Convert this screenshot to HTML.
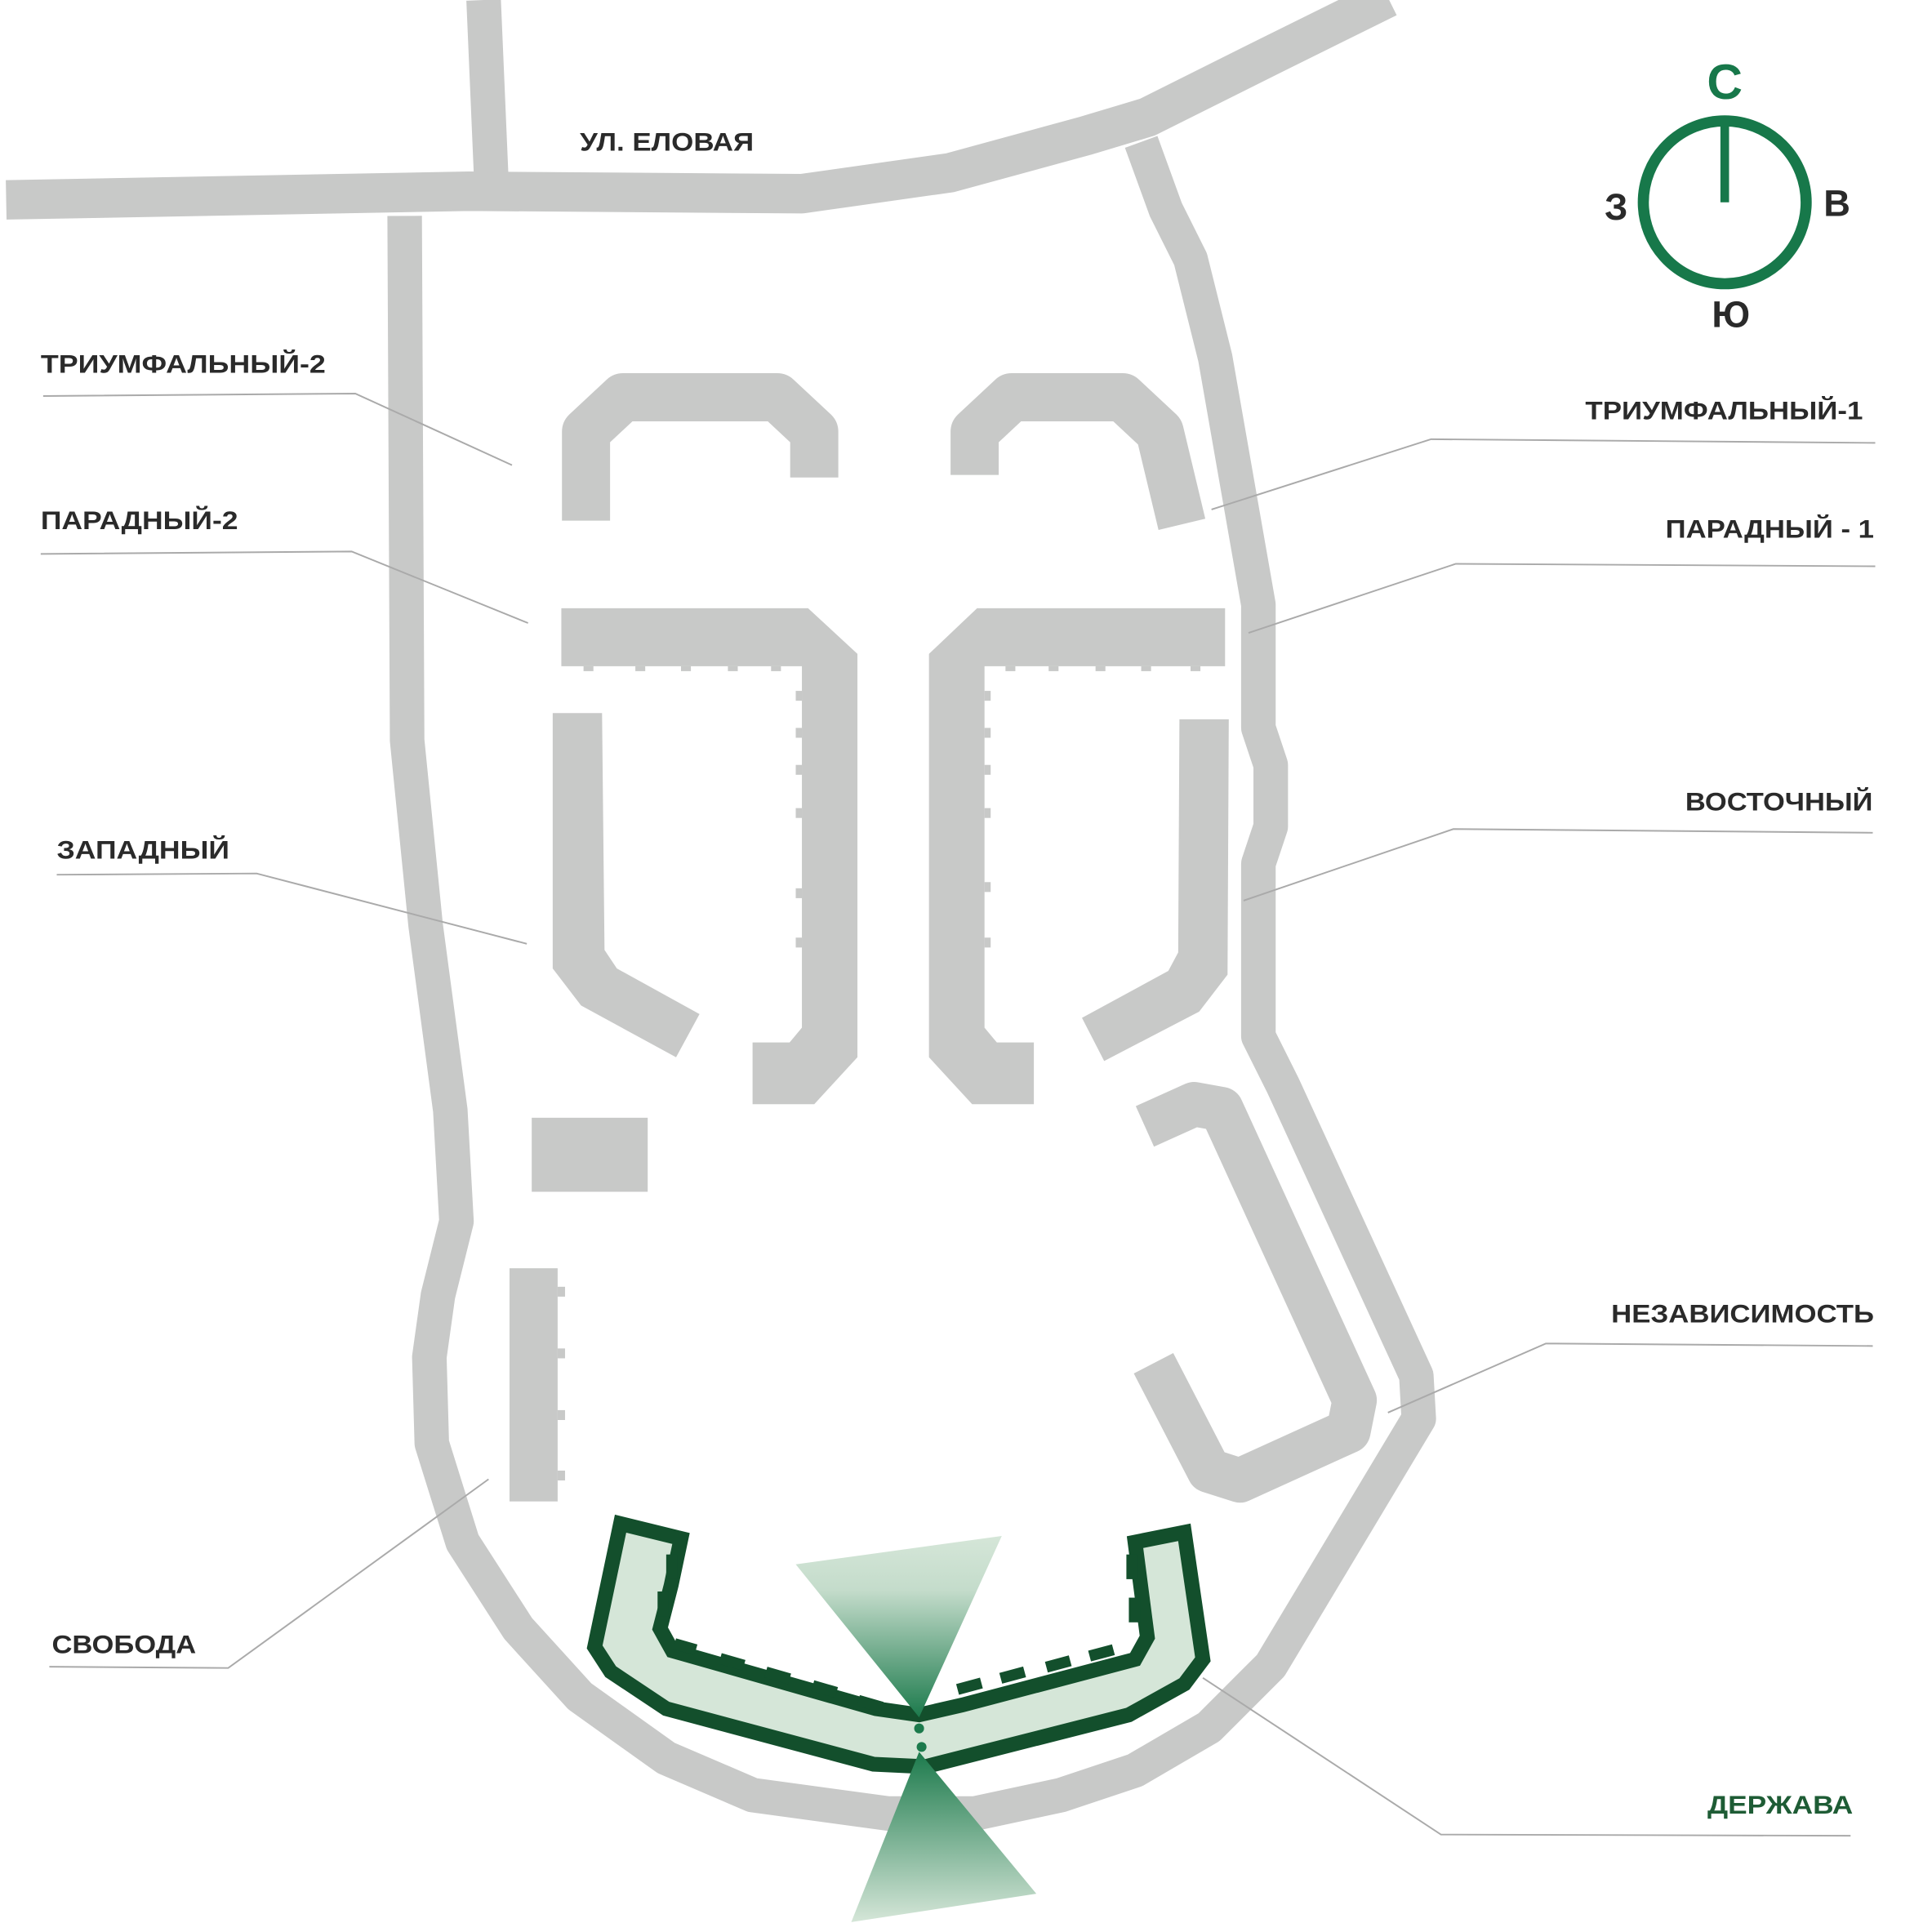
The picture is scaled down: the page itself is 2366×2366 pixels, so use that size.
<!DOCTYPE html>
<html><head><meta charset="utf-8"><style>
html,body{margin:0;padding:0;background:#fff}
svg{display:block}
text{font-family:"Liberation Sans",sans-serif;font-weight:bold}
</style></head><body>
<svg width="2366" height="2366" viewBox="0 0 1566 1566" preserveAspectRatio="none" xmlns="http://www.w3.org/2000/svg">
<defs>
<linearGradient id="g1" x1="0" y1="0" x2="0" y2="1">
<stop offset="0" stop-color="#d5e6d8"/><stop offset="0.3" stop-color="#c4dccb"/><stop offset="1" stop-color="#1c7a4c"/></linearGradient>
<linearGradient id="g2" x1="0" y1="0" x2="0" y2="1">
<stop offset="0" stop-color="#1c7a4c"/><stop offset="1" stop-color="#d5e6d8"/></linearGradient>
</defs>
<g fill="none" stroke="#c8c9c8" stroke-linejoin="round">
<polyline stroke-width="32" points="5,162 380,155 650,157 770,140 880,110 930,95 1030,45 1125,-2"/>
<polyline stroke-width="28" points="392,0 398,140"/>
<polyline stroke-width="28" points="328,175 330,600 345,750 365,900 370,990 355,1050 348,1100 350,1170 375,1250 420,1320 470,1375 540,1425 610,1455 720,1470 790,1470 860,1455 920,1435 980,1400 1030,1350 1075,1275 1150,1150 1148,1115 1040,880 1020,840 1020,700 1030,670 1030,620 1020,590 1020,490 985,290 965,210 945,170 925,115"/>
<polyline stroke-width="36" points="928,913 968,895 990,899 1098,1135 1093,1160 1005,1200 980,1192 935,1105"/>
<polyline stroke-width="39" points="475,422 475,350 505,322 630,322 660,350 660,387"/>
<polyline stroke-width="39" points="790,385 790,350 820,322 910,322 940,350 958,425"/>
</g>
<g fill="#c8c9c8">
<polygon points="455,493 655,493 695,530 695,857 660,895 610,895 610,845 640,845 650,833 650,540 455,540"/>
<polygon points="993,493 792,493 753,530 753,857 788,895 838,895 838,845 808,845 798,833 798,540 993,540"/>
<polygon points="448,578 488,578 490,770 500,785 567,822 548,857 471,815 448,785"/>
<polygon points="956,583 996,583 995,790 972,820 895,860 877,825 947,787 955,772"/>
<rect x="431" y="906" width="94" height="60"/>
<rect x="413" y="1028" width="39" height="189"/>
<rect x="452" y="1043" width="6" height="8"/><rect x="452" y="1093" width="6" height="8"/><rect x="452" y="1143" width="6" height="8"/><rect x="452" y="1192" width="6" height="8"/>
<rect x="473" y="540" width="8" height="4"/><rect x="515" y="540" width="8" height="4"/><rect x="552" y="540" width="8" height="4"/><rect x="590" y="540" width="8" height="4"/><rect x="625" y="540" width="8" height="4"/>
<rect x="645" y="560" width="5" height="8"/><rect x="645" y="590" width="5" height="8"/><rect x="645" y="620" width="5" height="8"/><rect x="645" y="655" width="5" height="8"/><rect x="645" y="720" width="5" height="8"/><rect x="645" y="760" width="5" height="8"/>
<rect x="815" y="540" width="8" height="4"/><rect x="850" y="540" width="8" height="4"/><rect x="888" y="540" width="8" height="4"/><rect x="925" y="540" width="8" height="4"/><rect x="965" y="540" width="8" height="4"/>
<rect x="798" y="560" width="5" height="8"/><rect x="798" y="590" width="5" height="8"/><rect x="798" y="620" width="5" height="8"/><rect x="798" y="655" width="5" height="8"/><rect x="798" y="715" width="5" height="8"/><rect x="798" y="760" width="5" height="8"/>
</g>
<polygon points="503,1235 552,1247 544,1285 535,1320 545,1338 710,1385 745,1390 780,1382 920,1345 930,1327 920,1250 960,1242 975,1345 960,1365 915,1390 750,1432 708,1430 540,1385 495,1355 482,1335" fill="#d5e6d8" stroke="#134f2c" stroke-width="12" stroke-linejoin="miter"/>
<g fill="#134f2c">
<rect x="540" y="1260" width="9" height="20"/><rect x="533" y="1290" width="9" height="20"/>
<rect x="548" y="1328" width="18" height="9" transform="rotate(16 548 1328)"/>
<rect x="585" y="1340" width="20" height="9" transform="rotate(16 585 1340)"/>
<rect x="622" y="1351" width="20" height="9" transform="rotate(16 622 1351)"/>
<rect x="660" y="1362" width="20" height="9" transform="rotate(16 660 1362)"/>
<rect x="697" y="1374" width="20" height="9" transform="rotate(16 697 1374)"/>
<rect x="913" y="1260" width="9" height="20"/><rect x="915" y="1295" width="9" height="20"/>
<rect x="775" y="1365" width="20" height="9" transform="rotate(-15 775 1365)"/>
<rect x="810" y="1356" width="20" height="9" transform="rotate(-15 810 1356)"/>
<rect x="847" y="1347" width="20" height="9" transform="rotate(-15 847 1347)"/>
<rect x="882" y="1338" width="20" height="9" transform="rotate(-15 882 1338)"/>
</g>
<polygon points="645,1268 812,1245 745,1392" fill="url(#g1)"/>
<polygon points="745,1420 690,1558 840,1535" fill="url(#g2)"/>
<circle cx="745" cy="1401" r="4" fill="#1c7a4c"/><circle cx="747" cy="1416" r="4" fill="#1c7a4c"/>
<g fill="none" stroke="#aaa" stroke-width="1.3">
<polyline points="35,321 288,319 415,377"/>
<polyline points="33,449 285,447 428,505"/>
<polyline points="46,709 208,708 427,765"/>
<polyline points="40,1351 185,1352 396,1199"/>
<polyline points="1520,359 1160,356 982,413"/>
<polyline points="1520,459 1180,457 1012,513"/>
<polyline points="1518,675 1178,672 1008,730"/>
<polyline points="1518,1091 1253,1089 1125,1145"/>
<polyline points="1500,1488 1168,1487 975,1360"/>
</g>
<g font-size="21" fill="#2a2a2a">
<text x="470" y="122" textLength="141" lengthAdjust="spacingAndGlyphs">УЛ. ЕЛОВАЯ</text>
<text x="33" y="302" textLength="231" lengthAdjust="spacingAndGlyphs">ТРИУМФАЛЬНЫЙ-2</text>
<text x="33" y="429" textLength="160" lengthAdjust="spacingAndGlyphs">ПАРАДНЫЙ-2</text>
<text x="46" y="696" textLength="140" lengthAdjust="spacingAndGlyphs">ЗАПАДНЫЙ</text>
<text x="42" y="1340" textLength="117" lengthAdjust="spacingAndGlyphs">СВОБОДА</text>
<text x="1285" y="340" textLength="225" lengthAdjust="spacingAndGlyphs">ТРИУМФАЛЬНЫЙ-1</text>
<text x="1350" y="436" textLength="169" lengthAdjust="spacingAndGlyphs">ПАРАДНЫЙ - 1</text>
<text x="1366" y="657" textLength="152" lengthAdjust="spacingAndGlyphs">ВОСТОЧНЫЙ</text>
<text x="1306" y="1072" textLength="213" lengthAdjust="spacingAndGlyphs">НЕЗАВИСИМОСТЬ</text>
<text x="1384" y="1470" textLength="118" lengthAdjust="spacingAndGlyphs" fill="#1e5c35">ДЕРЖАВА</text>
</g>
<circle cx="1398" cy="164" r="66" fill="none" stroke="#17784a" stroke-width="9"/>
<line x1="1398" y1="97" x2="1398" y2="164" stroke="#17784a" stroke-width="7"/>
<g text-anchor="middle">
<text x="1398" y="80" fill="#17784a" font-size="40">С</text>
<text x="1310" y="178" fill="#2a2a2a" font-size="30">З</text>
<text x="1489" y="175" fill="#2a2a2a" font-size="30">В</text>
<text x="1403" y="265" fill="#2a2a2a" font-size="30">Ю</text>
</g>
</svg>
</body></html>
